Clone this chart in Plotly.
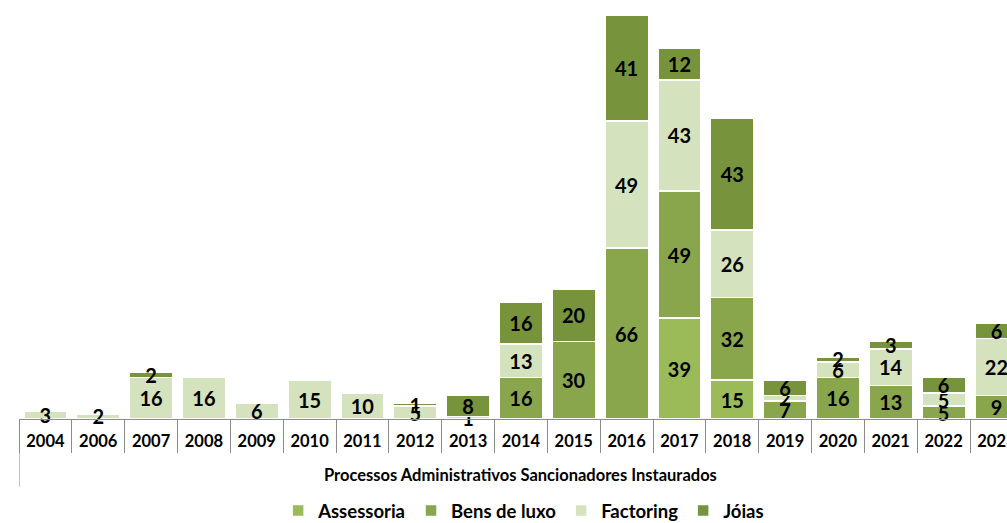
import plotly.graph_objects as go

years = ["2004", "2006", "2007", "2008", "2009", "2010", "2011", "2012", "2013", "2014",
         "2015", "2016", "2017", "2018", "2019", "2020", "2021", "2022", "2023"]
assessoria = [None, None, None, None, None, None, None, None, None, None,
              None, None, 39, 15, None, None, None, None, None]
bens_de_luxo = [None, None, None, None, None, None, None, None, None, 16,
                30, 66, 49, 32, 7, 16, 13, 5, 9]
factoring = [3, 2, 16, 16, 6, 15, 10, 5, 1, 13,
             None, 49, 43, 26, 2, 6, 14, 5, 22]
joias = [None, None, 2, None, None, None, None, 1, 8, 16,
         20, 41, 12, 43, 6, 2, 3, 6, 6]

series = [
    ("Assessoria", assessoria, "#9BBB59"),
    ("Bens de luxo", bens_de_luxo, "#8AA64D"),
    ("Factoring", factoring, "#D5E2BE"),
    ("Jóias", joias, "#77933C"),
]

FONT = "Lato"

fig = go.Figure()
for name, vals, color in series:
    fig.add_trace(go.Bar(
        name=name, x=years, y=vals,
        marker=dict(color=color, line=dict(color="white", width=1.5)),
        text=[("" if v is None else str(v)) for v in vals],
        textposition="inside", insidetextanchor="middle", textangle=0,
        constraintext="none", cliponaxis=False,
        textfont=dict(family=FONT, size=20, color="black", weight="bold"),
    ))

fig.update_layout(
    barmode="stack",
    bargap=0.18,
    width=1007, height=523,
    margin=dict(l=19, r=0, t=0, b=104, autoexpand=False),
    paper_bgcolor="white", plot_bgcolor="white",
    uniformtext=dict(minsize=20, mode="show"),
    font=dict(family=FONT, color="black"),
    showlegend=True,
    legend=dict(orientation="h", x=0.52, xanchor="center", xref="container",
                y=-0.174, yanchor="top", yref="paper",
                font=dict(family=FONT, size=18.5, weight="bold"),
                itemwidth=30, traceorder="normal"),
    xaxis=dict(
        type="category", range=[-0.5, 18.2], automargin=False,
        showline=True, linecolor="#8C8C8C", linewidth=1,
        ticks="outside", tickson="boundaries", ticklen=33,
        tickcolor="#8C8C8C", tickwidth=1,
        ticklabelstandoff=7,
        tickfont=dict(family=FONT, size=16.5, weight="bold", color="black"),
        showgrid=False, zeroline=False,
    ),
    yaxis=dict(visible=False, range=[0, 161.8], showgrid=False, zeroline=False),
)

fig.add_shape(type="line", xref="x", yref="paper", x0=-0.5, x1=-0.5, y0=0, y1=-0.162,
              line=dict(color="#8C8C8C", width=1))
fig.add_annotation(text="Processos Administrativos Sancionadores Instaurados",
                   xref="x", yref="paper", x=9, y=-0.134, yanchor="middle",
                   showarrow=False,
                   font=dict(family=FONT, size=16.5, weight="bold", color="black"))

fig.write_html("out.html")
